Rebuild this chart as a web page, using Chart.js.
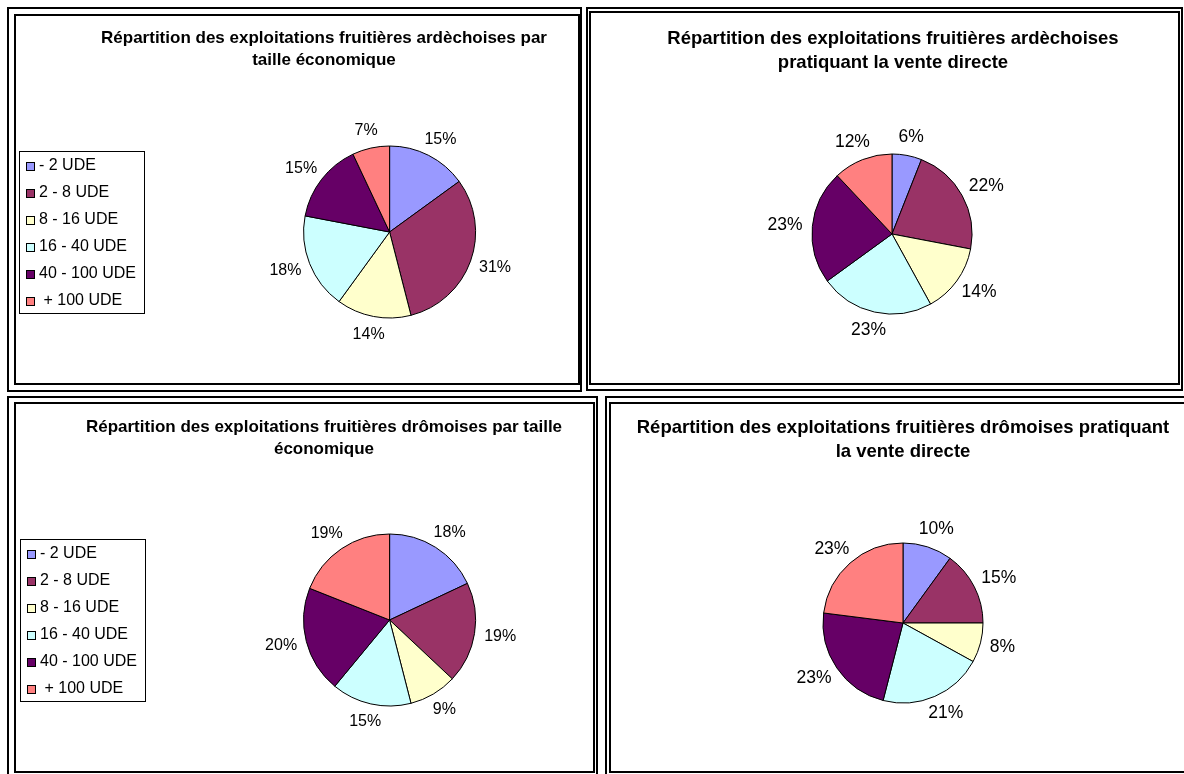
<!DOCTYPE html>
<html lang="fr">
<head>
<meta charset="utf-8">
<title>Exploitations fruitières</title>
<script src="https://cdn.jsdelivr.net/npm/chart.js@4.4.1/dist/chart.umd.min.js"></script>
<style>
  html, body { margin: 0; padding: 0; background: #fff; }
  body { width: 1184px; height: 774px; position: relative; overflow: hidden;
         font-family: "Liberation Sans", Arial, sans-serif; }
  .cadre { position: absolute; box-sizing: border-box; border: 2px solid #000; }
  .titre { position: absolute; width: 640px; text-align: center; font-weight: bold;
           color: #000; white-space: nowrap; }
  canvas { position: absolute; }
</style>
</head>
<body>

<!-- doubles cadres façon Excel -->
<div class="cadre" style="left:7px;top:7px;width:575px;height:385px"></div>
<div class="cadre" style="left:14px;top:14px;width:566px;height:371px"></div>
<div class="cadre" style="left:586px;top:7px;width:597px;height:384px"></div>
<div class="cadre" style="left:589px;top:11px;width:591px;height:374px"></div>
<div class="cadre" style="left:7px;top:396px;width:591px;height:390px"></div>
<div class="cadre" style="left:14px;top:402px;width:581px;height:371px"></div>
<div class="cadre" style="left:605px;top:396px;width:590px;height:390px"></div>
<div class="cadre" style="left:609px;top:402px;width:590px;height:371px"></div>

<canvas id="ardecheTaille" width="563" height="368" style="left:16px;top:16px"></canvas>
<canvas id="ardecheVente" width="588" height="371" style="left:591px;top:13px"></canvas>
<canvas id="dromeTaille" width="578" height="368" style="left:16px;top:404px"></canvas>
<canvas id="dromeVente" width="573" height="368" style="left:611px;top:404px"></canvas>

<div class="titre" style="left:4px;top:27px;font-size:17px;line-height:22px">Répartition des exploitations fruitières ardèchoises par<br>taille économique</div>
<div class="titre" style="left:573px;top:26px;font-size:18.5px;line-height:24.4px">Répartition des exploitations fruitières ardèchoises<br>pratiquant la vente directe</div>
<div class="titre" style="left:4px;top:416px;font-size:17px;line-height:21.6px">Répartition des exploitations fruitières drômoises par taille<br>économique</div>
<div class="titre" style="left:583px;top:415px;font-size:18.5px;line-height:24px">Répartition des exploitations fruitières drômoises pratiquant<br>la vente directe</div>

<script>
const categories = ['- 2 UDE', '2 - 8 UDE', '8 - 16 UDE', '16 - 40 UDE', '40 - 100 UDE', ' + 100 UDE'];
const ardecheTaille = [15, 31, 14, 18, 15, 7];
const ardecheVente = [6, 22, 14, 23, 23, 12];
const dromeTaille = [18, 19, 9, 15, 20, 19];
const dromeVente = [10, 15, 8, 21, 23, 23];
const couleurs = ['#9999FF', '#993366', '#FFFFCC', '#CCFFFF', '#660066', '#FF8080'];

const police = '"Liberation Sans", Arial, sans-serif';

// Pourcentages posés à l'extérieur de chaque part
const etiquettes = {
  id: 'etiquettes',
  afterDatasetsDraw(chart, args, opts) {
    const ctx = chart.ctx;
    const valeurs = chart.data.datasets[0].data;
    ctx.save();
    ctx.font = opts.taille + 'px ' + police;
    ctx.fillStyle = '#000';
    ctx.textAlign = 'center';
    ctx.textBaseline = 'middle';
    chart.getDatasetMeta(0).data.forEach((arc, i) => {
      const p = arc.getProps(['x', 'y', 'startAngle', 'endAngle', 'outerRadius'], true);
      const a = (p.startAngle + p.endAngle) / 2;
      const texte = valeurs[i] + '%';
      const w = ctx.measureText(texte).width;
      const d = p.outerRadius + opts.ecart;
      ctx.fillText(texte,
        p.x + Math.cos(a) * (d + w / 2),
        p.y + Math.sin(a) * (d + opts.taille / 2));
    });
    ctx.restore();
  }
};

// Légende encadrée à gauche
const legendeCadre = {
  id: 'legendeCadre',
  afterDraw(chart, args, opts) {
    if (!opts.afficher) return;
    const ctx = chart.ctx;
    const fonds = chart.data.datasets[0].backgroundColor;
    ctx.save();
    ctx.lineWidth = 1;
    ctx.strokeStyle = '#000';
    ctx.strokeRect(opts.x + 0.5, opts.y + 0.5, opts.largeur, opts.hauteur);
    ctx.font = opts.taille + 'px ' + police;
    ctx.textBaseline = 'middle';
    chart.data.labels.forEach((lib, i) => {
      const yy = Math.round(opts.y + opts.premier + i * opts.pas);
      ctx.fillStyle = fonds[i];
      ctx.fillRect(opts.x + opts.marge, yy - 4, 8, 8);
      ctx.strokeRect(opts.x + opts.marge + 0.5, yy - 3.5, 8, 8);
      ctx.fillStyle = '#000';
      ctx.fillText(lib, opts.x + opts.texte, yy);
    });
    ctx.restore();
  }
};

// centre et rayon en coordonnées de page, boite = position du canvas
function camembert(id, valeurs, boite, centre, rayon, taille, legende) {
  const cx = centre[0] - boite[0];
  const cy = centre[1] - boite[1];
  const demi = rayon + 2;
  return new Chart(document.getElementById(id), {
    type: 'pie',
    data: {
      labels: categories,
      datasets: [{
        data: valeurs,
        backgroundColor: couleurs,
        borderColor: '#000',
        borderWidth: 1,
        radius: rayon
      }]
    },
    options: {
      responsive: false,
      animation: false,
      events: [],
      layout: {
        padding: {
          left: cx - demi,
          right: boite[2] - cx - demi,
          top: cy - demi,
          bottom: boite[3] - cy - demi
        }
      },
      plugins: {
        legend: { display: false },
        title: { display: false },
        tooltip: { enabled: false },
        etiquettes: { taille: taille, ecart: 10 },
        legendeCadre: legende || { afficher: false }
      }
    },
    plugins: [etiquettes, legendeCadre]
  });
}

const legendeGauche = (x, y) => ({
  afficher: true, x: x, y: y, largeur: 125, hauteur: 162,
  premier: 14.5, pas: 27, marge: 7, texte: 20, taille: 16
});

camembert('ardecheTaille', ardecheTaille, [16, 16, 563, 368], [389.6, 232], 86, 16, legendeGauche(3, 135));
camembert('ardecheVente', ardecheVente, [591, 13, 588, 371], [892, 234], 80, 17.5);
camembert('dromeTaille', dromeTaille, [16, 404, 578, 368], [389.6, 620], 86, 16, legendeGauche(4, 135));
camembert('dromeVente', dromeVente, [611, 404, 573, 368], [903, 623], 80, 17.5);
</script>
</body>
</html>
